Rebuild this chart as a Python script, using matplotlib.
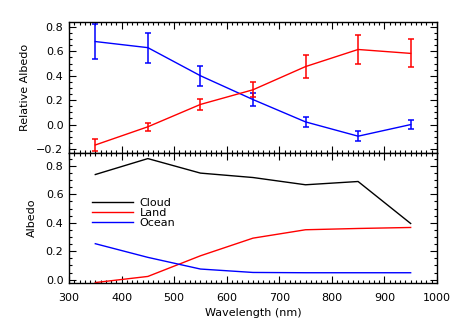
import matplotlib
matplotlib.use("Agg")
import matplotlib.pyplot as plt
from matplotlib.ticker import MultipleLocator

plt.rcParams['font.family'] = ['DejaVu Sans']
plt.rcParams['font.size'] = 8

wavelength = [350, 450, 550, 650, 750, 850, 950]

# Top panel: relative albedo with errors
rel_land = [-0.167, -0.018, 0.165, 0.285, 0.475, 0.615, 0.583]
rel_land_err = [0.052, 0.032, 0.042, 0.062, 0.095, 0.12, 0.115]
rel_ocean = [0.68, 0.63, 0.40, 0.205, 0.022, -0.095, 0.0]
rel_ocean_err = [0.14, 0.122, 0.082, 0.05, 0.038, 0.04, 0.04]

# Bottom panel: albedo
cloud = [0.739, 0.851, 0.749, 0.718, 0.667, 0.69, 0.395]
land = [-0.02, 0.023, 0.168, 0.292, 0.351, 0.36, 0.367]
ocean = [0.253, 0.157, 0.075, 0.051, 0.049, 0.049, 0.049]

fig = plt.figure(figsize=(4.58, 3.27), dpi=100)
ax1 = fig.add_axes([0.1507, 0.532, 0.954 - 0.1507, 0.9327 - 0.532])
ax2 = fig.add_axes([0.1507, 0.1346, 0.954 - 0.1507, 0.532 - 0.1346])

lw = 1.0
ax1.errorbar(wavelength, rel_ocean, yerr=rel_ocean_err, color='blue', lw=lw,
             elinewidth=1.1, capsize=2, capthick=1.1)
ax1.errorbar(wavelength, rel_land, yerr=rel_land_err, color='red', lw=lw,
             elinewidth=1.1, capsize=2, capthick=1.1)
ax1.set_ylim(-0.233, 0.84)
ax1.set_ylabel('Relative Albedo', labelpad=4.5)
ax1.yaxis.set_minor_locator(MultipleLocator(0.05))
ax1.set_yticks([-0.2, 0.0, 0.2, 0.4, 0.6, 0.8])
ax1.set_yticklabels(['\u22120.2', '0.0', '0.2', '0.4', '0.6', '0.8'])
ax1.tick_params(labelbottom=False)

ax2.plot(wavelength, cloud, color='black', lw=lw, label='Cloud')
ax2.plot(wavelength, land, color='red', lw=lw, label='Land')
ax2.plot(wavelength, ocean, color='blue', lw=lw, label='Ocean')
ax2.set_ylim(-0.023, 0.89)
ax2.set_ylabel('Albedo', labelpad=6)
ax2.set_xlabel('Wavelength (nm)', labelpad=4)
ax2.yaxis.set_minor_locator(MultipleLocator(0.05))
ax2.set_yticks([0.0, 0.2, 0.4, 0.6, 0.8])
ax2.set_yticklabels(['0.0', '0.2', '0.4', '0.6', '0.8'])
ax2.legend(loc='upper left', bbox_to_anchor=(0.05, 0.69), frameon=False,
           handlelength=3.7, handletextpad=0.6, labelspacing=0.0,
           borderaxespad=0, fontsize=8)

for ax in (ax1, ax2):
    ax.set_xlim(300, 1000)
    ax.xaxis.set_major_locator(MultipleLocator(100))
    ax.xaxis.set_minor_locator(MultipleLocator(10))
    ax.tick_params(which='both', direction='in', top=True, right=True, width=0.8)
    ax.tick_params(which='major', length=5)
    ax.tick_params(which='minor', length=2.5)
    ax.tick_params(axis='x', which='major', pad=7)
    ax.tick_params(axis='y', which='major', pad=4)
    for s in ax.spines.values():
        s.set_linewidth(1.0)

fig.savefig('out.png', dpi=100)
